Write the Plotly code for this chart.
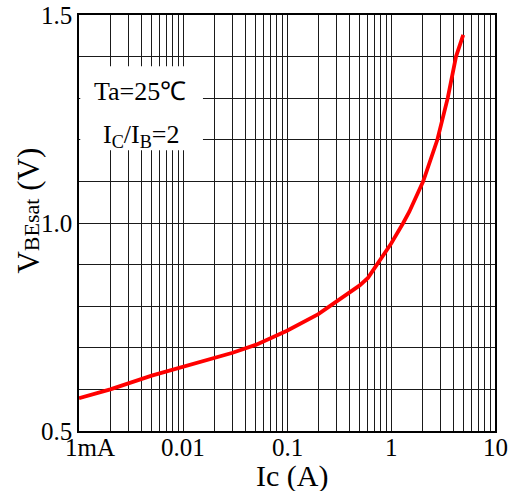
import plotly.graph_objects as go
import math

# Data
ic = [0.001, 0.002, 0.005, 0.01, 0.02, 0.03, 0.05, 0.1, 0.2, 0.3, 0.4, 0.5, 0.6, 0.7, 0.8, 1.0, 1.31, 1.5, 2.04, 2.79, 3.51, 4.22, 4.95]
vbe = [0.579, 0.600, 0.633, 0.654, 0.677, 0.688, 0.707, 0.741, 0.781, 0.812, 0.834, 0.850, 0.868, 0.893, 0.915, 0.950, 1.0, 1.027, 1.1, 1.2, 1.3, 1.4, 1.452]

decades = [0.001, 0.01, 0.1, 1, 10]
x_tick_labels = ["1mA", "0.01", "0.1", "1", "10"]
x_label_shift = [11, 0, 0, 0, 0]   # "1mA" sits right of its grid line in the reference
y_ticks = [0.5, 0.6, 0.7, 0.8, 0.9, 1.0, 1.1, 1.2, 1.3, 1.4, 1.5]
y_labels = ["0.5", "", "", "", "", "1.0", "", "", "", "", "1.5"]

xvals = [d * m for d in decades[:-1] for m in range(1, 10)] + [decades[-1]]

FONT = "Liberation Serif"
TICK = 25

fig = go.Figure()
fig.add_trace(go.Scatter(x=ic, y=vbe, mode="lines", line=dict(color="#ff0000", width=3.8),
                         showlegend=False, hoverinfo="skip"))

annotations = [
    dict(xref="paper", yref="paper", x=0, y=0.530, xanchor="center", yanchor="middle",
         xshift=-50, textangle=-90, showarrow=False,
         text="V<span style='font-size:22px'>BEsat</span> (V)", font=dict(size=31, family=FONT)),
    dict(xref="paper", yref="paper", x=0.512, y=0, xanchor="center", yanchor="middle",
         yshift=-45, showarrow=False, text="Ic (A)", font=dict(size=30, family=FONT)),
    dict(xref="paper", yref="y", x=0.147, y=1.316, xanchor="center", yanchor="middle",
         text="Ta=25℃", showarrow=False, font=dict(size=26, family=FONT)),
    dict(xref="paper", yref="y", x=0.15, y=1.21, xanchor="center", yanchor="middle",
         text="I<sub>C</sub>/I<sub>B</sub>=2", showarrow=False, font=dict(size=26, family=FONT)),
]
for d, lab, sh in zip(decades, x_tick_labels, x_label_shift):
    annotations.append(dict(xref="x", yref="paper", x=math.log10(d), y=0, xanchor="center", yanchor="top",
                            xshift=sh, yshift=-1, showarrow=False, text=lab,
                            font=dict(size=TICK, family=FONT)))

fig.update_layout(
    width=516, height=491,
    margin=dict(l=79, r=21, t=15, b=60),
    paper_bgcolor="white", plot_bgcolor="white",
    font=dict(family=FONT, color="black", size=TICK),
    xaxis=dict(type="log", range=[-3, 1], tickvals=xvals, showticklabels=False, automargin=False,
               showgrid=True, gridcolor="#1a1a1a", gridwidth=1,
               showline=True, linecolor="black", linewidth=1.5, mirror=True,
               ticks="", zeroline=False),
    yaxis=dict(range=[0.5, 1.5], tickvals=y_ticks, ticktext=y_labels, automargin=False,
               showgrid=True, gridcolor="#1a1a1a", gridwidth=1,
               showline=True, linecolor="black", linewidth=1.5, mirror=True,
               ticks="", zeroline=False, tickfont=dict(size=TICK)),
    shapes=[dict(type="rect", xref="paper", yref="y", x0=0.003, x1=0.298, y0=1.175, y1=1.377,
                 fillcolor="white", line=dict(width=0), layer="above")],
    annotations=annotations,
)

fig.write_html("out.html")
